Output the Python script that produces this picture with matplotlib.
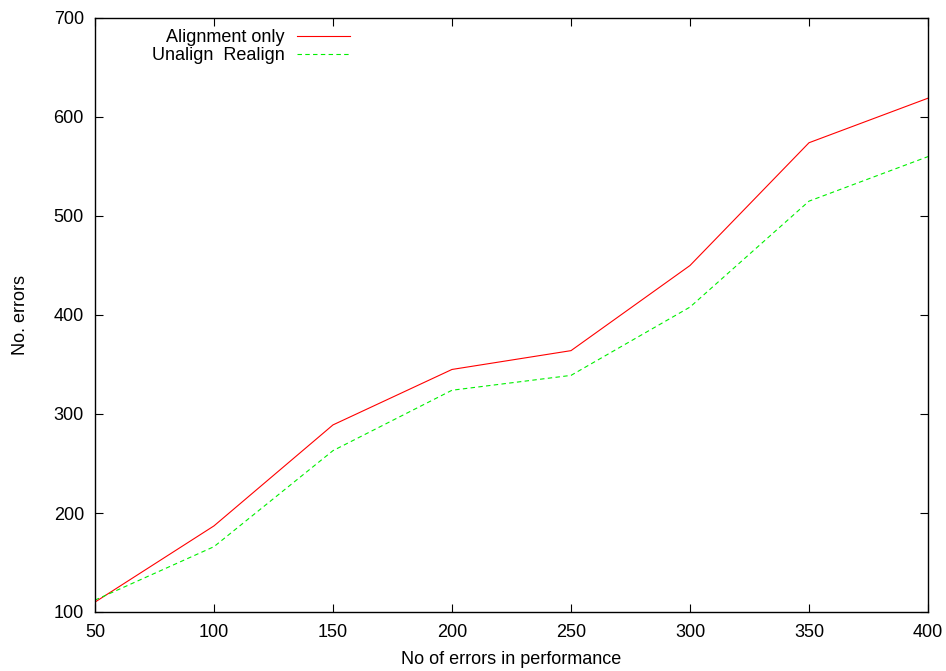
import matplotlib
matplotlib.use('Agg')
import matplotlib.pyplot as plt

# Dados: erros inseridos na performance vs. erros detectados
erros_performance = [50, 100, 150, 200, 250, 300, 350, 400]
alinhamento_apenas = [110, 187, 289, 345, 364, 450, 574, 619]
desalinha_realinha = [112, 166, 263, 324, 339, 408, 515, 560]

plt.rcParams['font.family'] = ['Liberation Sans', 'DejaVu Sans']
plt.rcParams['font.size'] = 13

fig = plt.figure(figsize=(9.46, 6.71), dpi=100)
ax = fig.add_axes([95 / 946, 59 / 671, 833 / 946, 594 / 671])

ax.plot(erros_performance, alinhamento_apenas, color='#ff0000', lw=0.8,
        label='Alignment only')
ax.plot(erros_performance, desalinha_realinha, color='#00f000', lw=0.8,
        linestyle=(0, (4, 3)), label='Unalign  Realign')

ax.set_xlim(50, 400)
ax.set_ylim(100, 700)
ax.set_xticks(range(50, 401, 50))
ax.set_yticks(range(100, 701, 100))
ax.tick_params(direction='in', length=6, width=0.8, top=True, right=True,
               labelsize=13)
ax.tick_params(axis='x', pad=8.5)
ax.tick_params(axis='y', pad=8)
for lado in ax.spines.values():
    lado.set_linewidth(1.0)

ax.set_xlabel('No of errors in performance', fontsize=13, labelpad=7)
ax.set_ylabel('No. errors', fontsize=13, labelpad=17.5)

fig.legend(loc='upper right', bbox_to_anchor=(350 / 946, 1 - 29 / 671),
           frameon=False, markerfirst=False, handlelength=2.95,
           handletextpad=0.67, labelspacing=0.05, borderpad=0,
           borderaxespad=0, fontsize=13)

fig.savefig('out.png', dpi=100)
